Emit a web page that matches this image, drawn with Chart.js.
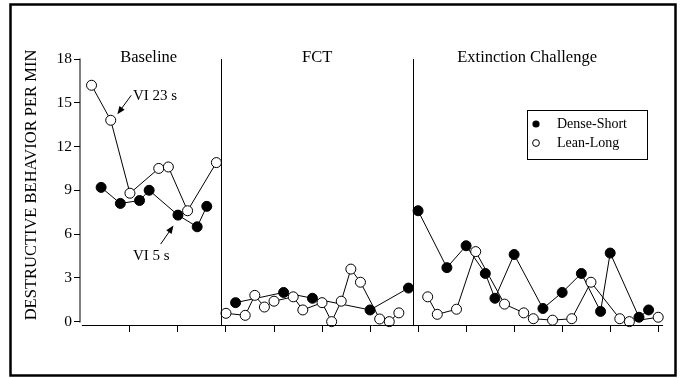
<!DOCTYPE html>
<html>
<head>
<meta charset="utf-8">
<script src="https://cdn.jsdelivr.net/npm/chart.js@4.4.1/dist/chart.umd.min.js"></script>
<style>
  html, body { margin: 0; padding: 0; background: #fff; }
  canvas { display: block; }
</style>
</head>
<body>
<canvas id="chart" width="683" height="378"></canvas>
<script>
// sessions and response rates (per min), read per condition
const denseShortSessions = [2, 4, 6, 7, 10, 12, 13, 16, 21, 24, 30, 34, 35, 38, 40, 42, 43, 45, 48, 50, 52, 54, 55, 58, 59];
const denseShortRates    = [9.2, 8.1, 8.3, 9.0, 7.3, 6.5, 7.9, 1.3, 2.0, 1.6, 0.8, 2.3, 7.6, 3.7, 5.2, 3.3, 1.6, 4.6, 0.9, 2.0, 3.3, 0.7, 4.7, 0.3, 0.8];

const leanLongSessions = [1, 3, 5, 8, 9, 11, 14, 15, 17, 18, 19, 20, 22, 23, 25, 26, 27, 28, 29, 31, 32, 33, 36, 37, 39, 41, 44, 46, 47, 49, 51, 53, 56, 57, 60];
const leanLongRates    = [16.2, 13.8, 8.8, 10.5, 10.6, 7.6, 10.9, 0.57, 0.43, 1.8, 1.0, 1.4, 1.7, 0.8, 1.3, 0, 1.4, 3.6, 2.7, 0.18, 0, 0.6, 1.7, 0.5, 0.85, 4.8, 1.2, 0.6, 0.2, 0.1, 0.2, 2.7, 0.2, 0, 0.3];

const phaseNames = ['Baseline', 'FCT', 'Extinction Challenge'];
const phaseBreaks = [14.5, 34.5];
const yTicks = [0, 3, 6, 9, 12, 15, 18];
const xTicks = [5, 10, 15, 20, 25, 30, 35, 40, 45, 50, 55, 60];

const SERIF = '"Liberation Serif", "Times New Roman", serif';

// build {x,y} points, breaking the line at each phase change
function toPoints(sessions, rates) {
  const pts = [];
  let b = 0;
  sessions.forEach((s, i) => {
    while (b < phaseBreaks.length && s > phaseBreaks[b]) {
      pts.push({ x: phaseBreaks[b], y: null });
      b++;
    }
    pts.push({ x: s, y: rates[i] });
  });
  return pts;
}

const decor = {
  id: 'decor',
  afterDraw(chart) {
    const { ctx, chartArea: a, scales: { x, y } } = chart;
    ctx.save();
    ctx.strokeStyle = '#000';
    ctx.fillStyle = '#000';

    // outer frame
    ctx.lineWidth = 2.5;
    ctx.strokeRect(10.5, 4.5, 665, 371);

    // axes
    ctx.lineWidth = 1;
    const ax = Math.round(a.left) + 0.5;
    const ay = Math.round(a.bottom) - 0.5;
    ctx.beginPath();
    ctx.moveTo(ax - 0.5, Math.round(y.getPixelForValue(0)) + 0.5);
    ctx.lineTo(ax - 0.5, Math.round(y.getPixelForValue(18)) - 0.5);
    ctx.moveTo(x.getPixelForValue(0), ay);
    ctx.lineTo(a.right, ay);
    // phase change lines
    phaseBreaks.forEach(p => {
      const px = Math.round(x.getPixelForValue(p)) + 0.5;
      ctx.moveTo(px, y.getPixelForValue(18));
      ctx.lineTo(px, ay);
    });
    ctx.stroke();

    // phase labels
    ctx.font = '16.5px ' + SERIF;
    ctx.textAlign = 'center';
    ctx.textBaseline = 'alphabetic';
    const labelAt = [6.95, 24.5, 46.35];
    phaseNames.forEach((n, i) => ctx.fillText(n, x.getPixelForValue(labelAt[i]), 61.5));

    // y axis title
    ctx.save();
    ctx.translate(31.5, 185);
    ctx.rotate(-Math.PI / 2);
    ctx.textBaseline = 'middle';
    ctx.fillText('DESTRUCTIVE BEHAVIOR PER MIN', 0, 0);
    ctx.restore();

    // schedule annotations with arrows pointing at data points
    const arrow = (tx, ty, hx, hy) => {
      const ang = Math.atan2(hy - ty, hx - tx);
      ctx.beginPath();
      ctx.moveTo(tx, ty);
      ctx.lineTo(hx - 5 * Math.cos(ang), hy - 5 * Math.sin(ang));
      ctx.stroke();
      ctx.beginPath();
      ctx.moveTo(hx, hy);
      ctx.lineTo(hx - 8 * Math.cos(ang) + 3.2 * Math.sin(ang), hy - 8 * Math.sin(ang) - 3.2 * Math.cos(ang));
      ctx.lineTo(hx - 8 * Math.cos(ang) - 3.2 * Math.sin(ang), hy - 8 * Math.sin(ang) + 3.2 * Math.cos(ang));
      ctx.closePath();
      ctx.fill();
    };
    const p23x = x.getPixelForValue(3), p23y = y.getPixelForValue(13.8);
    arrow(p23x + 20.5, p23y - 25, p23x + 6.6, p23y - 6);
    const p5x = x.getPixelForValue(10), p5y = y.getPixelForValue(7.3);
    arrow(p5x - 17.3, p5y + 29, p5x - 4.5, p5y + 10.5);

    ctx.font = '15px ' + SERIF;
    ctx.textAlign = 'left';
    ctx.textBaseline = 'middle';
    ctx.fillText('VI 23 s', 133, 96);
    ctx.fillText('VI 5 s', 133, 256);

    // legend
    ctx.lineWidth = 1;
    ctx.strokeRect(527.5, 110.5, 120, 49);
    ctx.beginPath();
    ctx.arc(536, 124, 3.6, 0, Math.PI * 2);
    ctx.fill();
    ctx.beginPath();
    ctx.arc(536, 143, 3.4, 0, Math.PI * 2);
    ctx.stroke();
    ctx.font = '14px ' + SERIF;
    ctx.fillText('Dense-Short', 557, 124);
    ctx.fillText('Lean-Long', 557, 143);

    ctx.restore();
  },
};

const series = {
  borderColor: '#000', borderWidth: 1, tension: 0, spanGaps: false, clip: false,
  pointRadius: 5, pointHoverRadius: 5, pointBorderColor: '#000', pointBorderWidth: 1,
};

new Chart(document.getElementById('chart').getContext('2d'), {
  type: 'line',
  data: {
    datasets: [
      { ...series, label: 'Lean-Long', data: toPoints(leanLongSessions, leanLongRates), pointBackgroundColor: '#fff' },
      { ...series, label: 'Dense-Short', data: toPoints(denseShortSessions, denseShortRates), pointBackgroundColor: '#000' },
    ],
  },
  options: {
    responsive: false, animation: false,
    layout: { padding: { top: 59, right: 20, left: 0, bottom: 0 } },
    plugins: { legend: { display: false }, tooltip: { enabled: false } },
    scales: {
      x: {
        type: 'linear', min: -0.2, max: 60.5,
        border: { display: false },
        grid: { drawOnChartArea: false, color: '#000', tickLength: 6 },
        ticks: { display: false },
        afterBuildTicks: s => { s.ticks = xTicks.map(v => ({ value: v })); },
        afterFit: s => { s.height = 52; },
      },
      y: {
        min: -0.3, max: 18,
        border: { display: false },
        grid: { drawOnChartArea: false, color: '#000', tickLength: 6 },
        ticks: { color: '#000', padding: 2, font: { family: SERIF, size: 15.5 } },
        afterBuildTicks: s => { s.ticks = yTicks.map(v => ({ value: v })); },
        afterFit: s => { s.width = 80; },
      },
    },
  },
  plugins: [decor],
});
</script>
</body>
</html>
